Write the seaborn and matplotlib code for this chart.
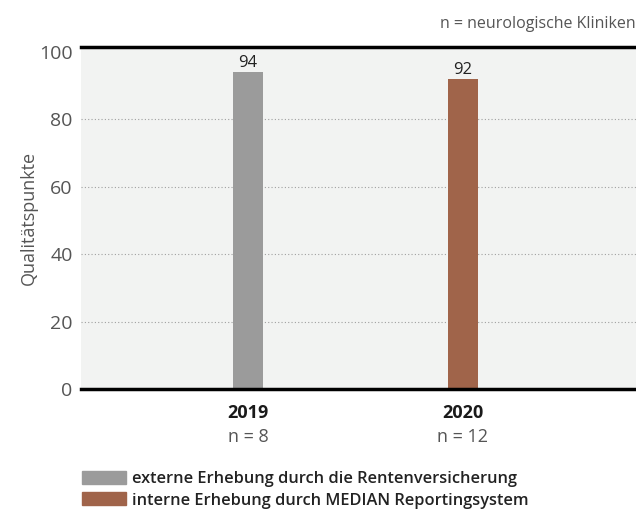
import matplotlib
matplotlib.use('Agg')
import matplotlib.pyplot as plt
import matplotlib.patches as mpatches
import seaborn as sns
import pandas as pd

# chart values
years = ['2019', '2020']
counts = ['n = 8', 'n = 12']
scores = [94, 92]
sources = ['externe Erhebung durch die Rentenversicherung',
           'interne Erhebung durch MEDIAN Reportingsystem']
colors = ['#9b9b9b', '#a0644a']

data = pd.DataFrame({'year': years, 'score': scores, 'source': sources})

sns.set_style('white')
plt.rcParams['font.family'] = ['Open Sans', 'DejaVu Sans']

fig = plt.figure(figsize=(6.36, 5.09), dpi=100)
ax = fig.add_axes([0.1274, 0.2358, 0.8726, 0.6719])
ax.set_facecolor('#f2f3f2')

sns.barplot(data=data, x='year', y='score', hue='source', palette=colors,
            dodge=False, width=0.14, saturation=1, linewidth=0, legend=False, ax=ax)

for i, v in enumerate(scores):
    ax.text(i, v + 1.6, str(v), ha='center', va='baseline', fontsize=12, color='#222222')

ax.set_ylim(0, 101.5)
ax.set_xlim(-0.777, 1.805)
ax.set_yticks([0, 20, 40, 60, 80, 100])
for y in [20, 40, 60, 80]:
    ax.axhline(y, color='#a0a0a0', lw=0.8, ls=(0, (1, 2)), zorder=0)
for s in ax.spines.values():
    s.set_visible(False)
for side in ['top', 'bottom']:
    ax.spines[side].set_visible(True)
    ax.spines[side].set_color('black')
    ax.spines[side].set_linewidth(2.5)

ax.tick_params(axis='y', labelsize=14, colors='#555555', length=0, pad=6)
ax.tick_params(axis='x', length=0)
ax.set_xticks([0, 1])
ax.set_xticklabels(['' for _ in years])
for i, (yr, n) in enumerate(zip(years, counts)):
    ax.text(i, -4.6, yr, ha='center', va='top', fontsize=13, fontweight='bold', color='#1a1a1a')
    ax.text(i, -11.6, n, ha='center', va='top', fontsize=13, color='#555555')

ax.set_xlabel('')
ax.set_ylabel('Qualitätspunkte', fontsize=13, color='#555555', labelpad=1)

fig.text(1.0, 0.952, 'n = neurologische Kliniken', ha='right', va='center', fontsize=11.5, color='#555555')

handles = [mpatches.Patch(color=c, label=s) for c, s in zip(colors, sources)]
fig.legend(handles=handles, loc='lower left', bbox_to_anchor=(0.105, -0.028), frameon=False,
           handlelength=2.7, handleheight=0.85, handletextpad=0.38, labelspacing=0.3,
           prop={'size': 11.8, 'weight': 'semibold'}, labelcolor='#222222')

fig.savefig('out.png', dpi=100)
